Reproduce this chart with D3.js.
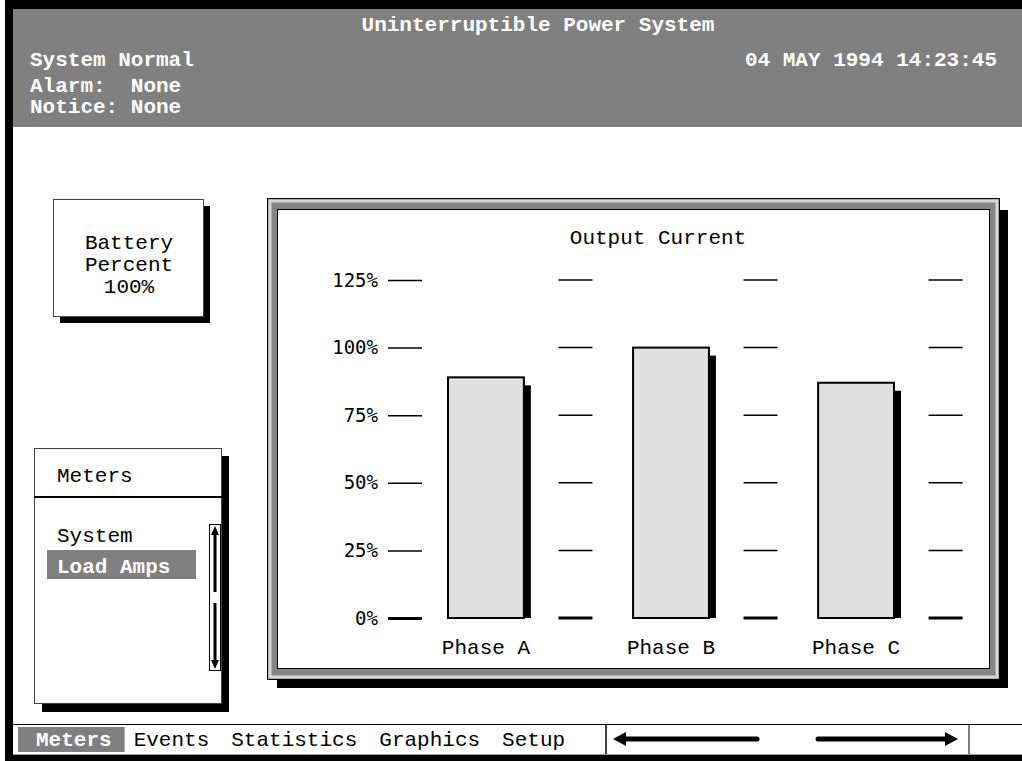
<!DOCTYPE html>
<html>
<head>
<meta charset="utf-8">
<script src="https://cdn.jsdelivr.net/npm/d3@7"></script>
<style>
  body { margin: 0; background: #fff; }
  svg text { font-family: "Liberation Mono", "Courier New", monospace; }
  .hdr { fill: #fff; font-weight: bold; font-size: 20px; }
  .txt { fill: #000; font-size: 20px; }
  .ylab { font-family: "DejaVu Sans Mono", monospace !important; font-size: 18px; }
</style>
</head>
<body>
<svg id="screen"></svg>
<script>
// ---- data ----
const phases = ["Phase A", "Phase B", "Phase C"];
const outputCurrent = [89, 100, 87];
const yTicks = [0, 25, 50, 75, 100, 125];
const menuItems = ["System", "Load Amps"];
const tabs = ["Meters", "Events", "Statistics", "Graphics", "Setup"];
const statusLines = ["System Normal", "Alarm:  None", "Notice: None"];
const title = "Uninterruptible Power System";
const timestamp = "04 MAY 1994 14:23:45";
const batteryLines = ["Battery", "Percent", "100%"];

const W = 1022, H = 761;
const svg = d3.select("#screen").attr("width", W).attr("height", H);

// outer screen frame
svg.append("rect").attr("x", 5).attr("y", 0).attr("width", W - 5).attr("height", 9).attr("fill", "#000");
svg.append("rect").attr("x", 5).attr("y", 0).attr("width", 8).attr("height", H).attr("fill", "#000");
svg.append("rect").attr("x", 5).attr("y", 755).attr("width", W - 5).attr("height", 6).attr("fill", "#000");

// header
svg.append("rect").attr("x", 13).attr("y", 9).attr("width", W - 13).attr("height", 118).attr("fill", "#808080");
svg.append("text").attr("class", "hdr").attr("x", 538).attr("y", 31)
  .attr("text-anchor", "middle").style("font-size", "21px").text(title);
svg.append("text").attr("class", "hdr").attr("x", 997).attr("y", 66)
  .attr("text-anchor", "end").style("font-size", "21px").text(timestamp);
svg.selectAll(".status").data(statusLines).join("text")
  .attr("class", "hdr status").attr("x", 30)
  .attr("y", (d, i) => [66, 92, 113][i])
  .style("font-size", "21px").style("white-space", "pre").attr("xml:space", "preserve")
  .text(d => d);

// battery box
svg.append("rect").attr("x", 60).attr("y", 206).attr("width", 150).attr("height", 117).attr("fill", "#000");
svg.append("rect").attr("x", 53.5).attr("y", 199.5).attr("width", 150).attr("height", 117)
  .attr("fill", "#fff").attr("stroke", "#444");
svg.selectAll(".batt").data(batteryLines).join("text")
  .attr("class", "txt batt").attr("x", 129).attr("y", (d, i) => 249 + i * 22)
  .attr("text-anchor", "middle").style("font-size", "21px").text(d => d);

// meters menu box
svg.append("rect").attr("x", 42).attr("y", 456).attr("width", 187).attr("height", 256).attr("fill", "#000");
svg.append("rect").attr("x", 34.5).attr("y", 448.5).attr("width", 187).attr("height", 255)
  .attr("fill", "#fff").attr("stroke", "#444");
svg.append("text").attr("class", "txt").attr("x", 57).attr("y", 482).style("font-size", "21px").text("Meters");
svg.append("line").attr("x1", 34).attr("x2", 222).attr("y1", 497).attr("y2", 497)
  .attr("stroke", "#000").attr("stroke-width", 2);
svg.append("rect").attr("x", 47).attr("y", 550).attr("width", 149).attr("height", 29).attr("fill", "#808080");
svg.selectAll(".menu").data(menuItems).join("text")
  .attr("class", "menu").attr("x", 57).attr("y", (d, i) => 542 + i * 31)
  .attr("fill", (d, i) => i === 1 ? "#fff" : "#000")
  .style("font-weight", (d, i) => i === 1 ? "bold" : "normal")
  .style("font-size", "21px").text(d => d);

// scroll bar
svg.append("rect").attr("x", 209.5).attr("y", 524.5).attr("width", 11).attr("height", 146)
  .attr("fill", "#fff").attr("stroke", "#000");
svg.append("line").attr("x1", 215).attr("x2", 215).attr("y1", 530).attr("y2", 592).attr("stroke", "#000").attr("stroke-width", 3);
svg.append("line").attr("x1", 215).attr("x2", 215).attr("y1", 603).attr("y2", 665).attr("stroke", "#000").attr("stroke-width", 3);
svg.append("path").attr("d", "M215,526 L211,535 L219,535 Z").attr("fill", "#000");
svg.append("path").attr("d", "M215,669 L211,660 L219,660 Z").attr("fill", "#000");

// chart panel (bevelled window)
svg.append("rect").attr("x", 277).attr("y", 210).attr("width", 731).attr("height", 478).attr("fill", "#000");
svg.append("rect").attr("x", 267.5).attr("y", 198.5).attr("width", 732).attr("height", 481)
  .attr("fill", "#858585").attr("stroke", "#000");
svg.append("rect").attr("x", 270).attr("y", 201).attr("width", 727).attr("height", 476)
  .attr("fill", "none").attr("stroke", "#d6d6d6").attr("stroke-width", 3);
svg.append("rect").attr("x", 277.5).attr("y", 209.5).attr("width", 712).attr("height", 459)
  .attr("fill", "#fff").attr("stroke", "#000");

svg.append("text").attr("class", "txt").attr("x", 658).attr("y", 244)
  .attr("text-anchor", "middle").style("font-size", "21px").text("Output Current");

// scales
const y = d3.scaleLinear().domain([0, 125]).range([618, 280]);
const x = d3.scaleBand().domain(phases).range([448, 894]).paddingInner(0.59).paddingOuter(0);
const tickLen = 34;

// y axis (first tick column with labels)
const yAxis = d3.axisLeft(y).tickValues(yTicks).tickSize(tickLen).tickPadding(10)
  .tickFormat(d => d + "%");
const yAxisG = svg.append("g").attr("transform", `translate(${388 + tickLen},0)`).call(yAxis);
yAxisG.select(".domain").remove();
yAxisG.selectAll(".tick line").attr("stroke", "#000")
  .attr("stroke-width", d => d === 0 ? 3 : 1.5);
yAxisG.selectAll(".tick text").attr("class", "ylab").attr("fill", "#000")
  .style("font-family", "'DejaVu Sans Mono', monospace").style("font-size", "19px");

// remaining tick columns, placed in the gap after each bar
const gap = (x.step() - x.bandwidth()) / 2 - 3;
const cols = phases.map(p => x(p) + x.bandwidth() + gap);
const colG = svg.append("g");
cols.forEach(cx => {
  colG.selectAll(null).data(yTicks).join("line")
    .attr("x1", cx - tickLen / 2).attr("x2", cx + tickLen / 2)
    .attr("y1", d => y(d)).attr("y2", d => y(d))
    .attr("stroke", "#000").attr("stroke-width", d => d === 0 ? 3 : 1.5);
});

// bars
const data = phases.map((p, i) => ({ phase: p, value: outputCurrent[i] }));
const shadow = 8;
svg.append("g").selectAll("rect").data(data).join("rect")
  .attr("x", d => x(d.phase) + x.bandwidth())
  .attr("y", d => y(d.value) + shadow)
  .attr("width", shadow - 1)
  .attr("height", d => y(0) - y(d.value) - shadow)
  .attr("fill", "#000");
svg.append("g").selectAll("rect").data(data).join("rect")
  .attr("x", d => x(d.phase))
  .attr("y", d => y(d.value))
  .attr("width", x.bandwidth())
  .attr("height", d => y(0) - y(d.value))
  .attr("fill", "#e0e0e0").attr("stroke", "#000").attr("stroke-width", 2);
svg.append("g").selectAll("text").data(data).join("text")
  .attr("class", "txt")
  .attr("x", d => x(d.phase) + x.bandwidth() / 2)
  .attr("y", 654).attr("text-anchor", "middle")
  .style("font-size", "21px").text(d => d.phase);

// status / tab bar
svg.append("line").attr("x1", 13).attr("x2", W).attr("y1", 724.5).attr("y2", 724.5).attr("stroke", "#000");
svg.append("line").attr("x1", 13).attr("x2", W).attr("y1", 754.5).attr("y2", 754.5).attr("stroke", "#999");
let tx = 36;
const tabG = svg.append("g");
tabs.forEach((t, i) => {
  const txt = tabG.append("text").attr("x", tx).attr("y", 746)
    .attr("fill", i === 0 ? "#fff" : "#000")
    .style("font-weight", i === 0 ? "bold" : "normal")
    .style("font-size", "21px").text(t);
  const len = txt.node().getComputedTextLength();
  if (i === 0) {
    tabG.insert("rect", "text").attr("x", 18).attr("y", 727).attr("width", tx + len + 13 - 18)
      .attr("height", 25).attr("fill", "#808080");
  }
  tx += len + 22;
});
svg.append("line").attr("x1", 606).attr("x2", 606).attr("y1", 725).attr("y2", 754).attr("stroke", "#000").attr("stroke-width", 1.5);
svg.append("line").attr("x1", 969).attr("x2", 969).attr("y1", 725).attr("y2", 754).attr("stroke", "#000").attr("stroke-width", 1);
svg.append("line").attr("x1", 622).attr("x2", 757).attr("y1", 739).attr("y2", 739)
  .attr("stroke", "#000").attr("stroke-width", 5).attr("stroke-linecap", "round");
svg.append("path").attr("d", "M613,739 L626,732 L626,746 Z").attr("fill", "#000");
svg.append("line").attr("x1", 818).attr("x2", 948).attr("y1", 739).attr("y2", 739)
  .attr("stroke", "#000").attr("stroke-width", 5).attr("stroke-linecap", "round");
svg.append("path").attr("d", "M958,739 L945,732 L945,746 Z").attr("fill", "#000");
</script>
</body>
</html>
